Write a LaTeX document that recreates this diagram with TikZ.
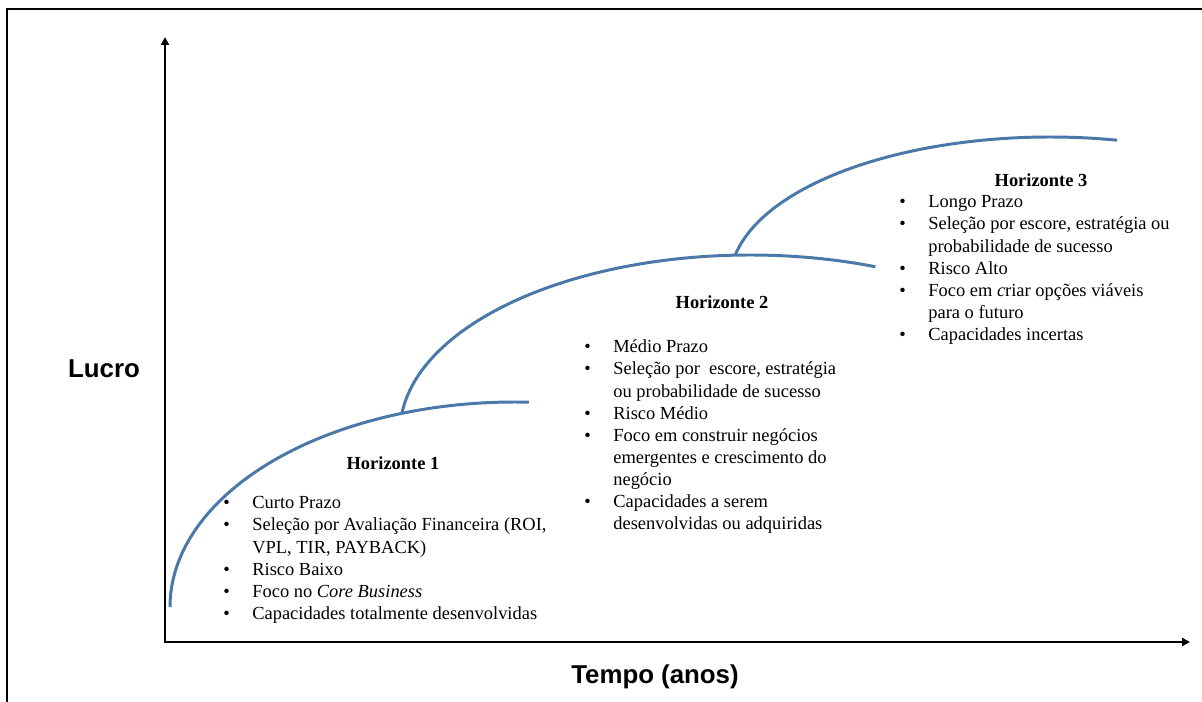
\documentclass[tikz,border=0pt]{standalone}
\usepackage{fontspec}
\setmainfont{Liberation Serif}
\setsansfont{Liberation Sans}
\usetikzlibrary{arrows.meta}
\definecolor{myblue}{RGB}{74,120,168}

\tikzset{
  curve/.style={draw=myblue, line width=1.7pt},
  axis/.style={line width=1.5pt, {Triangle[length=4.5pt,width=4.5pt]}-{Triangle[length=4.5pt,width=4.5pt]}},
  heading/.style={font=\fontsize{10.5}{12.6}\selectfont\bfseries, inner sep=0pt},
  itemlist/.style={anchor=north west, inner sep=0pt, font=\fontsize{10.5}{12.6}\selectfont},
  axislabel/.style={font=\fontsize{14.7}{17}\selectfont\sffamily\bfseries, inner sep=0pt}
}
\newcommand{\hlist}[1]{\begin{tabular}{@{}p{16.5pt}@{}l@{}}#1\end{tabular}}

\begin{document}
\begin{tikzpicture}[x=0.02cm, y=0.02cm]
\useasboundingbox (0,0) rectangle (1202,702);

%----------FRAME AND AXES-------------%
\draw[line width=1.1pt] (7,0) -- (7,693) -- (1202,693);

\coordinate (O) at (165,60);
\coordinate (ytip) at (165,665);
\coordinate (xtip) at (1190,60);
\draw[axis] (ytip) -- (O) -- (xtip);

\node[axislabel] (lucro) at (104,333) {Lucro};
\node[axislabel] (tempo) at (655,25) {Tempo (anos)};

%----------HORIZON CURVES-------------%
\foreach \cx/\cy/\rx/\ry/\sa/\ea in {515/95/345/205/180/87.7, 750/270/350/177/174/69, 1050/421/320/144/169.8/77.9}{
	\draw[curve] ({\cx+\rx*cos(\sa)},{\cy+\ry*sin(\sa)}) arc[start angle=\sa, end angle=\ea, x radius=\rx, y radius=\ry];
};

%----------TEXTS-------------%
\node[heading] (h1) at (393,239) {Horizonte 1};
\node[itemlist] (l1) at (223,209) {\hlist{
\textbullet & Curto Prazo\\
\textbullet & Seleção por Avaliação Financeira (ROI,\\
 & VPL, TIR, PAYBACK)\\
\textbullet & Risco Baixo\\
\textbullet & Foco no \textit{Core Business}\\
\textbullet & Capacidades totalmente desenvolvidas}};

\node[heading] (h2) at (722,400) {Horizonte 2};
\node[itemlist] (l2) at (584,365) {\hlist{
\textbullet & Médio Prazo\\
\textbullet & Seleção por~ escore, estratégia\\
 & ou probabilidade de sucesso\\
\textbullet & Risco Médio\\
\textbullet & Foco em construir negócios\\
 & emergentes e crescimento do\\
 & negócio\\
\textbullet & Capacidades a serem\\
 & desenvolvidas ou adquiridas}};

\node[heading] (h3) at (1041,522) {Horizonte 3};
\node[itemlist] (l3) at (899,510) {\hlist{
\textbullet & Longo Prazo\\
\textbullet & Seleção por escore, estratégia ou\\
 & probabilidade de sucesso\\
\textbullet & Risco Alto\\
\textbullet & Foco em \textit{c}riar opções viáveis\\
 & para o futuro\\
\textbullet & Capacidades incertas}};

\end{tikzpicture}
\end{document}
